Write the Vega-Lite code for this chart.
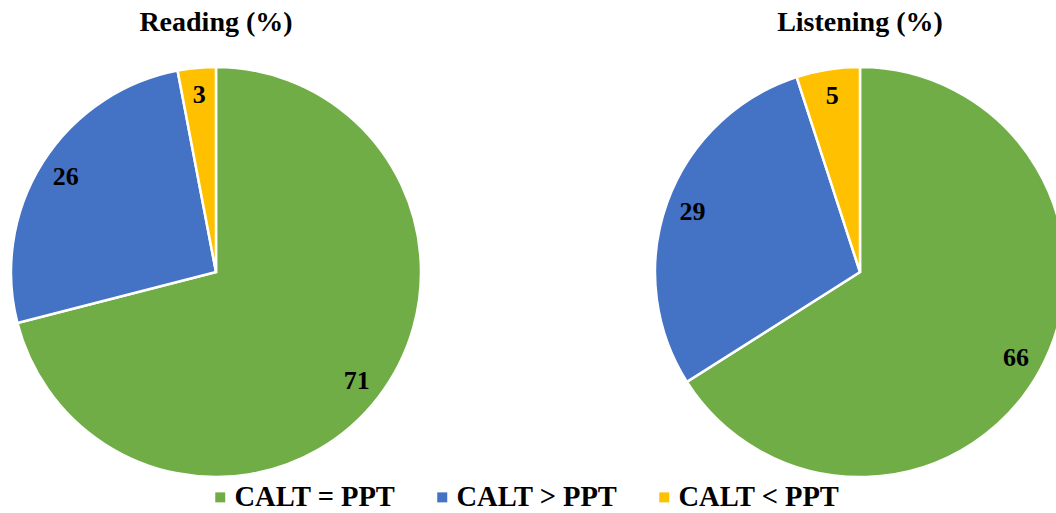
{
  "$schema": "https://vega.github.io/schema/vega-lite/v6.json",
  "padding": {"left": 6, "top": 9, "right": 0, "bottom": 0},
  "background": "white",
  "data": {
    "values": [
      {"test": "Reading (%)", "category": "CALT = PPT", "value": 71, "ord": 1},
      {"test": "Reading (%)", "category": "CALT > PPT", "value": 26, "ord": 2},
      {"test": "Reading (%)", "category": "CALT < PPT", "value": 3, "ord": 3},
      {"test": "Listening (%)", "category": "CALT = PPT", "value": 66, "ord": 1},
      {"test": "Listening (%)", "category": "CALT > PPT", "value": 29, "ord": 2},
      {"test": "Listening (%)", "category": "CALT < PPT", "value": 5, "ord": 3}
    ]
  },
  "facet": {
    "column": {
      "field": "test",
      "type": "nominal",
      "sort": ["Reading (%)", "Listening (%)"],
      "title": null,
      "header": {
        "labelFont": "Liberation Serif",
        "labelFontSize": 28,
        "labelFontWeight": "bold",
        "labelColor": "black",
        "labelPadding": 25
      }
    }
  },
  "spacing": 224,
  "spec": {
    "width": 410,
    "height": 410,
    "encoding": {
      "theta": {"field": "value", "type": "quantitative", "stack": true},
      "order": {"field": "ord", "type": "quantitative"}
    },
    "layer": [
      {
        "mark": {"type": "arc", "stroke": "white", "strokeWidth": 2.5},
        "encoding": {
          "color": {
            "field": "category",
            "type": "nominal",
            "scale": {
              "domain": ["CALT = PPT", "CALT > PPT", "CALT < PPT"],
              "range": ["#70AD47", "#4472C4", "#FFC000"]
            },
            "legend": {
              "title": null,
              "orient": "none",
              "direction": "horizontal",
              "legendX": 195,
              "legendY": 416,
              "symbolType": "square",
              "symbolSize": 100,
              "symbolStrokeWidth": 0,
              "labelFont": "Liberation Serif",
              "labelFontSize": 28.5,
              "labelFontWeight": "bold",
              "labelColor": "black",
              "labelOffset": 0,
              "columnPadding": 32,
              "labelLimit": 300
            }
          }
        }
      },
      {
        "mark": {
          "type": "text",
          "radius": 178,
          "font": "Liberation Serif",
          "fontSize": 26,
          "fontWeight": "bold",
          "color": "black"
        },
        "encoding": {"text": {"field": "value", "type": "quantitative"}}
      }
    ]
  },
  "config": {"view": {"stroke": null}}
}
